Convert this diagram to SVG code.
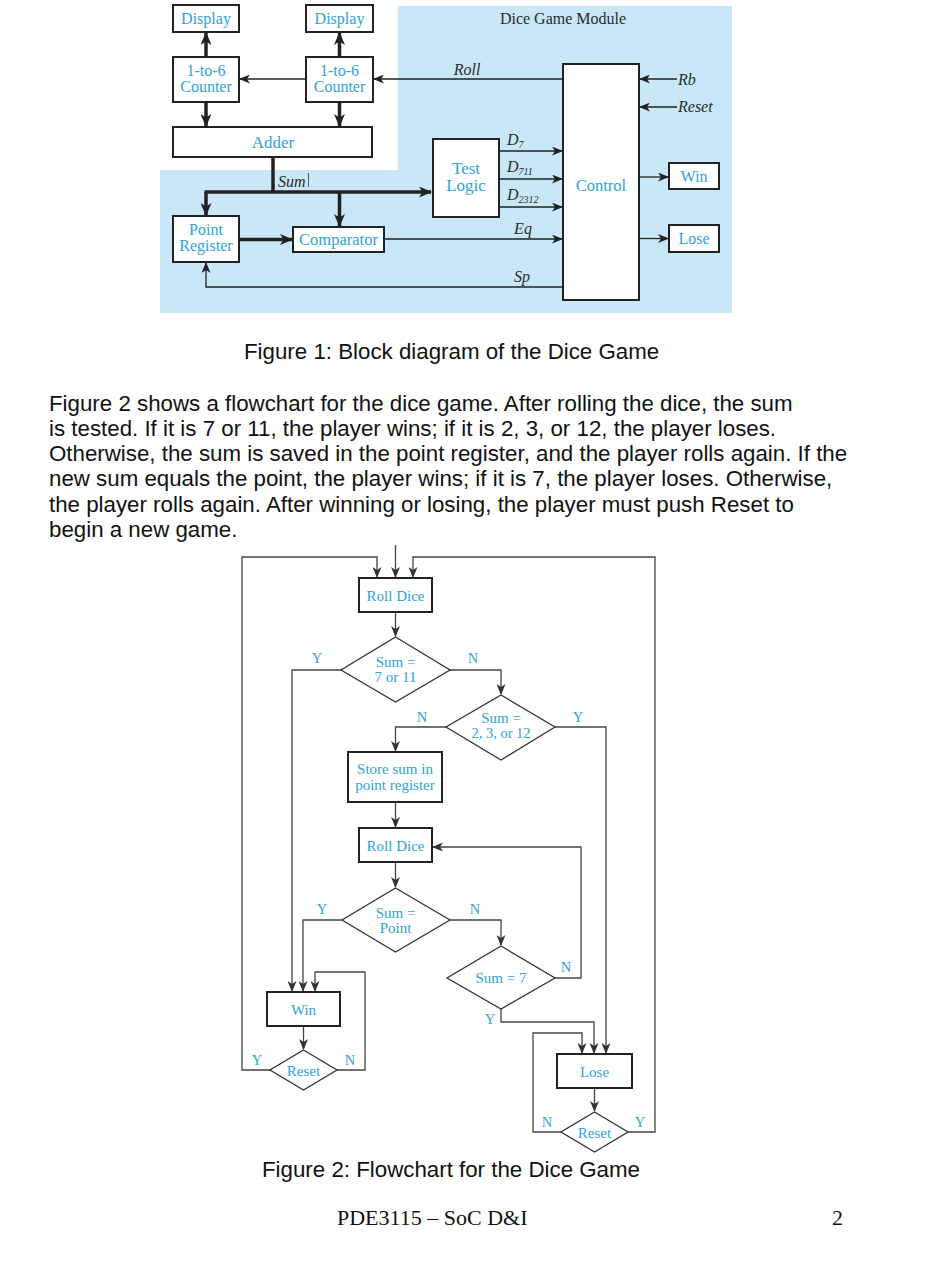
<svg xmlns="http://www.w3.org/2000/svg" width="934" height="1280" viewBox="0 0 934 1280">
<defs>
<marker id="ah" markerUnits="userSpaceOnUse" markerWidth="11" markerHeight="9" refX="10" refY="4.5" orient="auto" viewBox="0 0 11 9"><path d="M0,0 L11,4.5 L0,9 L3,4.5 z" fill="#222"/></marker>
<marker id="ahg" markerUnits="userSpaceOnUse" markerWidth="11" markerHeight="9" refX="10" refY="4.5" orient="auto" viewBox="0 0 11 9"><path d="M0,0 L11,4.5 L0,9 L3,4.5 z" fill="#333"/></marker>
<marker id="ahb" markerUnits="userSpaceOnUse" markerWidth="13" markerHeight="11" refX="12" refY="5.5" orient="auto" viewBox="0 0 13 11"><path d="M0,0 L13,5.5 L0,11 L3.5,5.5 z" fill="#222"/></marker>
</defs>
<style>
.bx{fill:#fff;stroke:#222;stroke-width:2}
.dm{fill:#fff;stroke:#333;stroke-width:1.3}
.nt{font-family:"Liberation Serif",serif;fill:#2ea3dc;text-anchor:middle}
.lb{font-family:"Liberation Serif",serif;fill:#2a2a2a;font-style:italic;font-size:16px}
.yn{font-family:"Liberation Serif",serif;fill:#2ea3dc;font-size:14.5px;text-anchor:middle}
.th{fill:none;stroke:#222;stroke-width:1.3}
.tk{fill:none;stroke:#222;stroke-width:3.5}
.fl{fill:none;stroke:#444;stroke-width:1.3}
.body{font-family:"Liberation Sans",Arial,sans-serif;font-size:22.3px;fill:#111}
</style>
<rect width="934" height="1280" fill="#fff"/>

<!-- Figure 1 -->
<polygon points="398,6 732,6 732,313 160,313 160,170 398,170" fill="#c8e8f8"/>
<text x="563" y="24" font-family="Liberation Serif,serif" font-size="16" fill="#2a2a2a" text-anchor="middle">Dice Game Module</text>

<g id="connectors1">
<line class="tk" x1="206" y1="57" x2="206" y2="33" marker-end="url(#ahb)"/>
<line class="tk" x1="339.5" y1="57" x2="339.5" y2="33" marker-end="url(#ahb)"/>
<line class="tk" x1="206" y1="102" x2="206" y2="126" marker-end="url(#ahb)"/>
<line class="tk" x1="339.5" y1="102" x2="339.5" y2="126" marker-end="url(#ahb)"/>
<line class="th" x1="306" y1="79" x2="240" y2="79" marker-end="url(#ah)"/>
<line class="th" x1="563" y1="79" x2="374" y2="79" marker-end="url(#ah)"/>
<polyline class="tk" points="273,157 273,192"/>
<line class="tk" x1="204.5" y1="192" x2="431" y2="192" marker-end="url(#ahb)"/>
<line class="tk" x1="206" y1="192" x2="206" y2="215" marker-end="url(#ahb)"/>
<line class="tk" x1="339.5" y1="192" x2="339.5" y2="226" marker-end="url(#ahb)"/>
<line class="tk" x1="239" y1="239.5" x2="292" y2="239.5" marker-end="url(#ahb)"/>
<line class="th" x1="384" y1="239" x2="562" y2="239" marker-end="url(#ah)"/>
<polyline class="th" points="563,287 206,287 206,263" marker-end="url(#ah)"/>
<line class="th" x1="499" y1="151" x2="562" y2="151" marker-end="url(#ah)"/>
<line class="th" x1="499" y1="179" x2="562" y2="179" marker-end="url(#ah)"/>
<line class="th" x1="499" y1="207" x2="562" y2="207" marker-end="url(#ah)"/>
<line class="th" x1="677" y1="79" x2="640" y2="79" marker-end="url(#ah)"/>
<line class="th" x1="677" y1="107" x2="640" y2="107" marker-end="url(#ah)"/>
<line class="th" x1="639" y1="177" x2="668" y2="177" marker-end="url(#ah)"/>
<line class="th" x1="639" y1="238.5" x2="668" y2="238.5" marker-end="url(#ah)"/>
<line x1="308.5" y1="173" x2="308.5" y2="187" stroke="#333" stroke-width="0.8"/>
</g>
<g id="labels1">
<text class="lb" x="467" y="75" text-anchor="middle">Roll</text>
<text class="lb" x="278" y="187">Sum</text>
<text class="lb" x="507" y="145">D<tspan font-size="10" dy="3">7</tspan></text>
<text class="lb" x="507" y="172">D<tspan font-size="10" dy="3">711</tspan></text>
<text class="lb" x="507" y="200">D<tspan font-size="10" dy="3">2312</tspan></text>
<text class="lb" x="523" y="234" text-anchor="middle">Eq</text>
<text class="lb" x="522" y="282" text-anchor="middle">Sp</text>
<text class="lb" x="678" y="85">Rb</text>
<text class="lb" x="678" y="112">Reset</text>
</g>

<g id="display1"><rect class="bx" x="173" y="5" width="66" height="27"/><text class="nt" x="206" y="24" font-size="16">Display</text></g>
<g id="display2"><rect class="bx" x="306" y="5" width="67" height="27"/><text class="nt" x="339.5" y="24" font-size="16">Display</text></g>
<g id="counter1"><rect class="bx" x="173" y="57" width="66" height="45"/><text class="nt" x="206" y="75.5" font-size="16">1-to-6</text><text class="nt" x="206" y="92" font-size="16">Counter</text></g>
<g id="counter2"><rect class="bx" x="306" y="57" width="67" height="45"/><text class="nt" x="339.5" y="75.5" font-size="16">1-to-6</text><text class="nt" x="339.5" y="92" font-size="16">Counter</text></g>
<g id="adder"><rect class="bx" x="173" y="127" width="199" height="30"/><text class="nt" x="273" y="148" font-size="17">Adder</text></g>
<g id="pointreg"><rect class="bx" x="173" y="216" width="66" height="46"/><text class="nt" x="206" y="234.5" font-size="16">Point</text><text class="nt" x="206" y="251" font-size="16">Register</text></g>
<g id="comparator"><rect class="bx" x="293" y="227" width="91" height="25"/><text class="nt" x="338.5" y="245" font-size="16.5">Comparator</text></g>
<g id="testlogic"><rect class="bx" x="433" y="139" width="66" height="78"/><text class="nt" x="466" y="174" font-size="17">Test</text><text class="nt" x="466" y="191" font-size="17">Logic</text></g>
<g id="control"><rect class="bx" x="563" y="64" width="76" height="236"/><text class="nt" x="601" y="191" font-size="16.5">Control</text></g>
<g id="win1"><rect class="bx" x="669" y="163" width="50" height="26"/><text class="nt" x="694" y="181.5" font-size="16">Win</text></g>
<g id="lose1"><rect class="bx" x="669" y="225" width="50" height="27"/><text class="nt" x="694" y="244" font-size="16">Lose</text></g>

<text class="body" x="244" y="359">Figure 1: Block diagram of the Dice Game</text>
<g class="body">
<text x="49" y="410.5">Figure 2 shows a flowchart for the dice game. After rolling the dice, the sum</text>
<text x="49" y="435.8">is tested. If it is 7 or 11, the player wins; if it is 2, 3, or 12, the player loses.</text>
<text x="49" y="461.1">Otherwise, the sum is saved in the point register, and the player rolls again. If the</text>
<text x="49" y="486.4">new sum equals the point, the player wins; if it is 7, the player loses. Otherwise,</text>
<text x="49" y="511.7">the player rolls again. After winning or losing, the player must push Reset to</text>
<text x="49" y="537">begin a new game.</text>
</g>

<!-- Figure 2 -->
<g id="connectors2">
<polyline class="fl" points="270,1070 242,1070 242,557 377,557 377,577" marker-end="url(#ahg)"/>
<line class="fl" x1="395.5" y1="545" x2="395.5" y2="577" marker-end="url(#ahg)"/>
<polyline class="fl" points="628,1132 655,1132 655,557 413,557 413,577" marker-end="url(#ahg)"/>
<line class="fl" x1="395.5" y1="612" x2="395.5" y2="636" marker-end="url(#ahg)"/>
<polyline class="fl" points="341,670 292,670 292,991" marker-end="url(#ahg)"/>
<polyline class="fl" points="450,670 501,670 501,694" marker-end="url(#ahg)"/>
<polyline class="fl" points="446,727 395.5,727 395.5,751" marker-end="url(#ahg)"/>
<polyline class="fl" points="555,727 606,727 606,1053" marker-end="url(#ahg)"/>
<line class="fl" x1="395.5" y1="802" x2="395.5" y2="827" marker-end="url(#ahg)"/>
<line class="fl" x1="395.5" y1="862" x2="395.5" y2="887" marker-end="url(#ahg)"/>
<polyline class="fl" points="342,920 303,920 303,991" marker-end="url(#ahg)"/>
<polyline class="fl" points="450,920 501,920 501,945" marker-end="url(#ahg)"/>
<polyline class="fl" points="555,978 581,978 581,847 433,847" marker-end="url(#ahg)"/>
<polyline class="fl" points="501,1009 501,1022 594,1022 594,1053" stroke="#999" marker-end="url(#ahg)"/>
<line class="fl" x1="303.5" y1="1026" x2="303.5" y2="1049" marker-end="url(#ahg)"/>
<polyline class="fl" points="337,1070 365,1070 365,972 315,972 315,991" marker-end="url(#ahg)"/>
<line class="fl" x1="594.5" y1="1088" x2="594.5" y2="1111" marker-end="url(#ahg)"/>
<polyline class="fl" points="561,1132 533,1132 533,1033 582,1033 582,1053" marker-end="url(#ahg)"/>
</g>
<g id="yn">
<text class="yn" x="317" y="663">Y</text>
<text class="yn" x="473" y="663">N</text>
<text class="yn" x="422" y="722">N</text>
<text class="yn" x="578" y="722">Y</text>
<text class="yn" x="322" y="914">Y</text>
<text class="yn" x="475" y="914">N</text>
<text class="yn" x="566" y="972">N</text>
<text class="yn" x="490" y="1024">Y</text>
<text class="yn" x="257" y="1065">Y</text>
<text class="yn" x="350" y="1065">N</text>
<text class="yn" x="547" y="1127">N</text>
<text class="yn" x="640" y="1127">Y</text>
</g>
<g id="rolldice1"><rect class="bx" x="359" y="578" width="73" height="34"/><text class="nt" x="395.5" y="600.5" font-size="15">Roll Dice</text></g>
<g id="dec1"><polygon class="dm" points="395.5,637 450,670 395.5,702 341,670"/><text class="nt" x="395.5" y="666.5" font-size="15">Sum =</text><text class="nt" x="395.5" y="682" font-size="15">7 or 11</text></g>
<g id="dec2"><polygon class="dm" points="501,695 555,727 501,760 446,727"/><text class="nt" x="501" y="723" font-size="15">Sum =</text><text class="nt" x="501" y="738" font-size="14.5">2, 3, or 12</text></g>
<g id="store"><rect class="bx" x="348" y="752" width="94" height="50"/><text class="nt" x="395" y="773.5" font-size="15">Store sum in</text><text class="nt" x="395" y="789.5" font-size="15">point register</text></g>
<g id="rolldice2"><rect class="bx" x="359" y="828" width="73" height="34"/><text class="nt" x="395.5" y="850.5" font-size="15">Roll Dice</text></g>
<g id="dec3"><polygon class="dm" points="395.5,888 450,920 395.5,952 342,920"/><text class="nt" x="395.5" y="917.5" font-size="15">Sum =</text><text class="nt" x="395.5" y="932.5" font-size="15">Point</text></g>
<g id="dec4"><polygon class="dm" points="501,946 555,978 501,1009 447,978"/><text class="nt" x="501" y="982.5" font-size="15">Sum = 7</text></g>
<g id="win2"><rect class="bx" x="267" y="992" width="73" height="34"/><text class="nt" x="303.5" y="1014.5" font-size="15">Win</text></g>
<g id="reset1"><polygon class="dm" points="303.5,1050 337,1070 303.5,1090 270,1070"/><text class="nt" x="303.5" y="1075.5" font-size="15">Reset</text></g>
<g id="lose2"><rect class="bx" x="557" y="1054" width="75" height="34"/><text class="nt" x="594.5" y="1076.5" font-size="15">Lose</text></g>
<g id="reset2"><polygon class="dm" points="594.5,1112 628,1132 594.5,1152 561,1132"/><text class="nt" x="594.5" y="1137.5" font-size="15">Reset</text></g>

<text class="body" x="262" y="1177">Figure 2: Flowchart for the Dice Game</text>
<text x="337" y="1225" font-family="Liberation Serif,serif" font-size="22" fill="#111">PDE3115 – SoC D&amp;I</text>
<text x="832" y="1225" font-family="Liberation Serif,serif" font-size="22" fill="#111">2</text>
</svg>
